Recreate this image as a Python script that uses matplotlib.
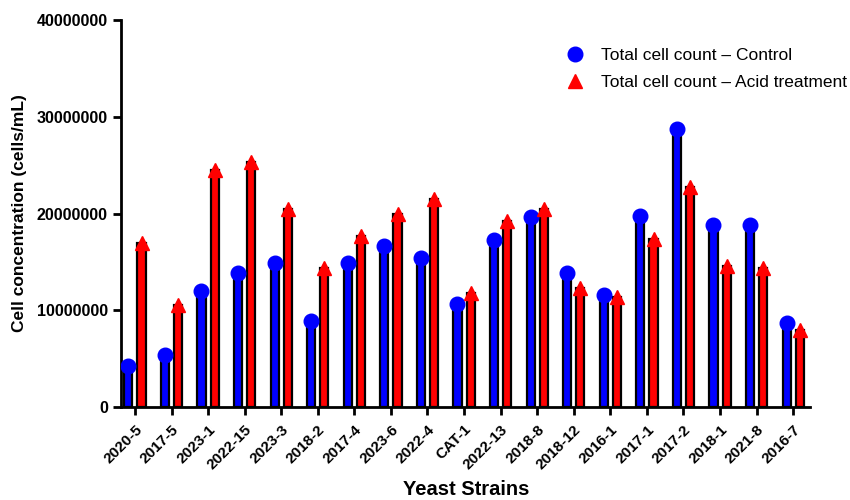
import numpy as np
import matplotlib.pyplot as plt

plt.rcParams["font.family"] = ["Liberation Sans", "DejaVu Sans"]

strains = ["2020-5", "2017-5", "2023-1", "2022-15", "2023-3", "2018-2", "2017-4",
           "2023-6", "2022-4", "CAT-1", "2022-13", "2018-8", "2018-12", "2016-1",
           "2017-1", "2017-2", "2018-1", "2021-8", "2016-7"]

# total cell counts (cells/mL)
control = [4.2e6, 5.4e6, 12.0e6, 13.9e6, 14.85e6, 8.9e6, 14.9e6, 16.6e6, 15.4e6,
           10.65e6, 17.3e6, 19.6e6, 13.8e6, 11.6e6, 19.7e6, 28.75e6, 18.8e6,
           18.8e6, 8.7e6]
acid = [16.95e6, 10.5e6, 24.5e6, 25.3e6, 20.5e6, 14.4e6, 17.65e6, 20.0e6, 21.5e6,
        11.75e6, 19.2e6, 20.5e6, 12.25e6, 11.4e6, 17.4e6, 22.7e6, 14.6e6,
        14.4e6, 8.0e6]

x = np.arange(len(strains))
off = 0.18
w = 0.22

fig = plt.figure(figsize=(8.5, 5), dpi=100)
ax = fig.add_axes([0.1424, 0.186, 0.811, 0.774])

ax.bar(x - off, control, width=w, color="blue", edgecolor="black", linewidth=1.6, zorder=2)
ax.bar(x + off, acid, width=w, color="red", edgecolor="black", linewidth=1.6, zorder=2)
ax.plot(x - off, control, "o", color="blue", ms=10.5, zorder=3,
        label="Total cell count \u2013 Control")
ax.plot(x + off, acid, "^", color="red", ms=10.5, zorder=3,
        label="Total cell count \u2013 Acid treatment")

ax.set_xlim(-0.38, 18.47)
ax.set_ylim(0, 40000000)
ax.set_yticks([0, 10000000, 20000000, 30000000, 40000000])
ax.set_yticklabels(["0", "10000000", "20000000", "30000000", "40000000"])
ax.set_xticks(x)
ax.set_xticklabels(strains, rotation=45, ha="right", rotation_mode="anchor")

for s in ["top", "right"]:
    ax.spines[s].set_visible(False)
for s in ["left", "bottom"]:
    ax.spines[s].set_linewidth(2)
ax.tick_params(axis="both", width=2, length=6, labelsize=11)
ax.tick_params(axis="y", labelsize=11.5)
ax.tick_params(axis="x", pad=5)
for lbl in ax.get_xticklabels() + ax.get_yticklabels():
    lbl.set_fontweight("bold")

ax.set_ylabel("Cell concentration (cells/mL)", fontsize=12.5, fontweight="bold", labelpad=7)
ax.set_xlabel("Yeast Strains", fontsize=14.5, fontweight="bold", labelpad=6)

ax.legend(loc="upper left", bbox_to_anchor=(0.648, 0.935), bbox_transform=fig.transFigure,
          frameon=False, fontsize=12.5, handlelength=1.0, handletextpad=1.0, labelspacing=0.65)

fig.savefig("out.png", dpi=100)
